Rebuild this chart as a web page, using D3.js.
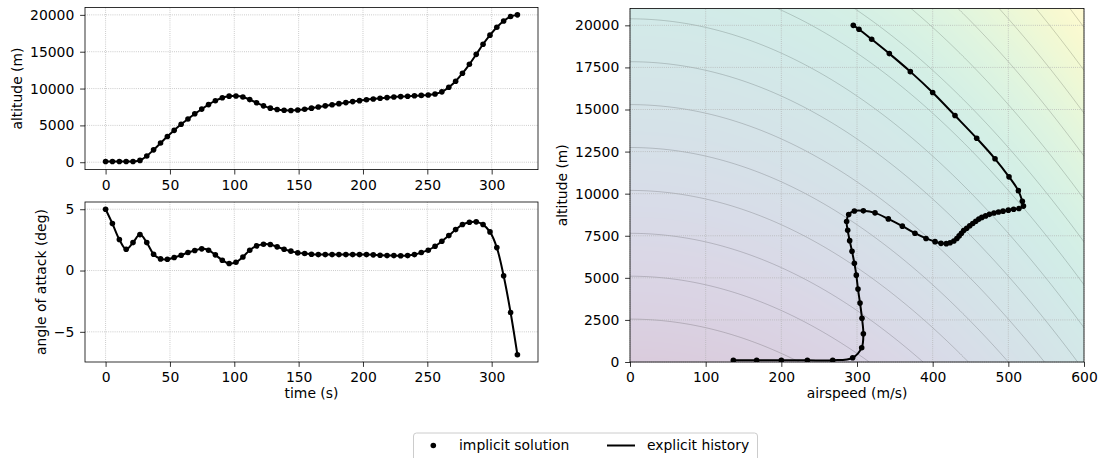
<!DOCTYPE html>
<html>
<head>
<meta charset="utf-8">
<script src="https://cdn.jsdelivr.net/npm/d3@7"></script>
<style>
  body { margin: 0; background: #fff; }
  text { font-family: "DejaVu Sans", sans-serif; }
</style>
</head>
<body>
<script>
// values
const time = [0, 5.3, 10.7, 16, 21.3, 26.7, 32, 37.3, 42.7, 48, 53.3, 58.7, 64, 69.3, 74.7, 80,
  85.3, 90.7, 96, 101.3, 106.7, 112, 117.3, 122.7, 128, 133.3, 138.7, 144, 149.3, 154.7, 160,
  165.3, 170.7, 176, 181.3, 186.7, 192, 197.3, 202.7, 208, 213.3, 218.7, 224, 229.3, 234.7, 240,
  245.3, 250.7, 256, 261.3, 266.7, 272, 277.3, 282.7, 288, 293.3, 298.7, 304, 309.3, 314.7, 320]

const altitude = [100, 100, 100, 100, 100, 250, 850, 1680, 2600, 3500, 4330, 5160, 5870, 6580, 7210,
  7820, 8350, 8760, 8970, 8980, 8860, 8500, 8070, 7650, 7340, 7150, 7050, 7030, 7080, 7190, 7340,
  7490, 7650, 7810, 7950, 8090, 8230, 8360, 8490, 8590, 8680, 8770, 8850, 8910, 8960, 9020, 9070,
  9120, 9260, 9550, 10180, 11000, 12070, 13290, 14640, 16010, 17250, 18320, 19170, 19770, 20000]

const alpha = [5.0, 3.83, 2.53, 1.74, 2.28, 2.93, 2.28, 1.33, 0.95, 0.92, 1.06, 1.25, 1.47, 1.63, 1.77,
  1.66, 1.28, 0.84, 0.57, 0.68, 1.11, 1.66, 2.01, 2.15, 2.12, 1.93, 1.74, 1.58, 1.44, 1.39, 1.33,
  1.30, 1.30, 1.30, 1.30, 1.30, 1.30, 1.30, 1.30, 1.28, 1.25, 1.22, 1.22, 1.20, 1.22, 1.30, 1.47,
  1.66, 1.98, 2.39, 2.85, 3.34, 3.75, 3.94, 3.97, 3.75, 3.15, 1.87, -0.43, -3.42, -6.87]

const airspeed = [136.6, 167.4, 200, 234.4, 267.9, 294.3, 306.2, 308.4, 306.6, 304, 301.3, 299.1,
  296.5, 293.4, 290.3, 287.7, 286.3, 289, 296.5, 308.4, 323.8, 341.4, 359.9, 376.6, 391.2, 403.1,
  411, 418, 423, 428, 432, 435, 438, 441, 445, 449, 453, 457, 461, 465, 470, 475, 481, 487, 493,
  500, 507, 514, 520, 518.5, 513.2, 500.9, 482.4, 458.2, 429.5, 400, 370.5, 342.7, 319.4, 302.6, 295.1]

// specific energy levels g*h + v^2/2 (J/kg)
const energyLevels = [25000, 50000, 75000, 100000, 125000, 150000, 175000, 200000, 225000,
  250000, 275000, 300000, 325000, 350000, 375000]

const timeTicks = [0, 50, 100, 150, 200, 250, 300]
const altTicks = [0, 5000, 10000, 15000, 20000]
const aoaTicks = [-5, 0, 5]
const speedTicks = [0, 100, 200, 300, 400, 500, 600]
const hTicks = [0, 2500, 5000, 7500, 10000, 12500, 15000, 17500, 20000]

const W = 1101, H = 458
const grav = 9.81
const fontSize = 13.9

const svg = d3.select("body").append("svg")
  .attr("width", W)
  .attr("height", H)

const xT = d3.scaleLinear().domain([-16, 336]).range([85, 538])
const yAlt = d3.scaleLinear().domain([-1000, 21000]).range([169.6, 7.5])
const yAoa = d3.scaleLinear().domain([-7.46, 5.59]).range([362, 202])
const xV = d3.scaleLinear().domain([0, 600]).range([630, 1084])
const yH = d3.scaleLinear().domain([0, 21000]).range([362, 8.5])

function clipFor(id, x, y) {
  svg.append("clipPath").attr("id", id)
    .append("rect")
    .attr("x", x.range()[0]).attr("y", y.range()[1])
    .attr("width", x.range()[1] - x.range()[0])
    .attr("height", y.range()[0] - y.range()[1])
}

function grid(g, x, y, xt, yt) {
  g.append("g").selectAll("line").data(xt).join("line")
    .attr("x1", d => x(d)).attr("x2", d => x(d))
    .attr("y1", y.range()[0]).attr("y2", y.range()[1])
  g.append("g").selectAll("line").data(yt).join("line")
    .attr("y1", d => y(d)).attr("y2", d => y(d))
    .attr("x1", x.range()[0]).attr("x2", x.range()[1])
  g.selectAll("line")
    .attr("stroke", "#b0b0b0")
    .attr("stroke-width", 0.8)
    .attr("stroke-dasharray", "0.8,1.32")
}

function axes(x, y, xt, yt) {
  const ax = svg.append("g")
    .attr("transform", `translate(0,${y.range()[0]})`)
    .call(d3.axisBottom(x).tickValues(xt).tickSize(4.9).tickPadding(5.3).tickFormat(d3.format("d")))
  const ay = svg.append("g")
    .attr("transform", `translate(${x.range()[0]},0)`)
    .call(d3.axisLeft(y).tickValues(yt).tickSize(4.9).tickPadding(5.8).tickFormat(d => d < 0 ? "\u2212" + Math.abs(d) : d))
  ;[ax, ay].forEach(a => {
    a.select(".domain").remove()
    a.selectAll("line").attr("stroke", "#000").attr("stroke-width", 0.8)
    a.selectAll("text")
      .attr("font-family", "DejaVu Sans")
      .attr("font-size", fontSize)
      .attr("fill", "#000")
  })
  svg.append("rect")
    .attr("x", x.range()[0]).attr("y", y.range()[1])
    .attr("width", x.range()[1] - x.range()[0])
    .attr("height", y.range()[0] - y.range()[1])
    .attr("fill", "none")
    .attr("stroke", "#000")
    .attr("stroke-width", 0.8)
}

function series(g, xs, ys, x, y) {
  const pts = xs.map((d, i) => [x(d), y(ys[i])])
  g.append("path")
    .attr("d", d3.line().curve(d3.curveCatmullRom.alpha(0.5))(pts))
    .attr("fill", "none")
    .attr("stroke", "#000")
    .attr("stroke-width", 2)
  g.append("g").selectAll("circle").data(pts).join("circle")
    .attr("cx", d => d[0]).attr("cy", d => d[1])
    .attr("r", 2.8)
    .attr("fill", "#000")
}

function label(text, x, y, rotate) {
  svg.append("text")
    .attr("transform", `translate(${x},${y})` + (rotate ? " rotate(-90)" : ""))
    .attr("text-anchor", "middle")
    .attr("dy", "0.35em")
    .attr("font-size", fontSize)
    .attr("fill", "#000")
    .text(text)
}

// altitude vs time
clipFor("c1", xT, yAlt)
grid(svg.append("g"), xT, yAlt, timeTicks, altTicks)
series(svg.append("g").attr("clip-path", "url(#c1)"), time, altitude, xT, yAlt)
axes(xT, yAlt, timeTicks, altTicks)

// angle of attack vs time
clipFor("c2", xT, yAoa)
grid(svg.append("g"), xT, yAoa, timeTicks, aoaTicks)
series(svg.append("g").attr("clip-path", "url(#c2)"), time, alpha, xT, yAoa)
axes(xT, yAoa, timeTicks, aoaTicks)

// altitude vs airspeed with energy background
clipFor("c3", xV, yH)
const x0 = xV.range()[0], y0 = yH.range()[1]
const cw = Math.round(xV.range()[1] - x0), ch = Math.round(yH.range()[0] - y0)
const eMax = grav * yH.domain()[1] + xV.domain()[1] * xV.domain()[1] / 2
const color = d3.scaleSequential(d3.interpolateViridis).domain([0, eMax])
const canvas = document.createElement("canvas")
canvas.width = cw
canvas.height = ch
const ctx = canvas.getContext("2d")
const img = ctx.createImageData(cw, ch)
for (let j = 0; j < ch; j++) {
  const h = yH.invert(y0 + j + 0.5)
  for (let i = 0; i < cw; i++) {
    const v = xV.invert(x0 + i + 0.5)
    const c = d3.rgb(color(grav * h + v * v / 2))
    const k = (j * cw + i) * 4
    img.data[k] = 255 - 0.2 * (255 - c.r)
    img.data[k + 1] = 255 - 0.2 * (255 - c.g)
    img.data[k + 2] = 255 - 0.2 * (255 - c.b)
    img.data[k + 3] = 255
  }
}
ctx.putImageData(img, 0, 0)
svg.append("image")
  .attr("x", x0).attr("y", y0)
  .attr("width", cw).attr("height", ch)
  .attr("preserveAspectRatio", "none")
  .attr("href", canvas.toDataURL())

const contourG = svg.append("g").attr("clip-path", "url(#c3)")
contourG.selectAll("path").data(energyLevels).join("path")
  .attr("d", e => {
    const vEnd = Math.sqrt(2 * e)
    const vs = d3.range(0, Math.min(vEnd, 640), 2).concat(vEnd < 640 ? [vEnd] : [])
    return d3.line()(vs.map(v => [xV(v), yH((e - v * v / 2) / grav)]))
  })
  .attr("fill", "none")
  .attr("stroke", "#000")
  .attr("stroke-opacity", 0.22)
  .attr("stroke-width", 0.8)

grid(svg.append("g"), xV, yH, speedTicks, hTicks)
series(svg.append("g").attr("clip-path", "url(#c3)"), airspeed, altitude, xV, yH)
axes(xV, yH, speedTicks, hTicks)

label("altitude (m)", 17, (yAlt.range()[0] + yAlt.range()[1]) / 2, true)
label("angle of attack (deg)", 41, (yAoa.range()[0] + yAoa.range()[1]) / 2, true)
label("time (s)", (xT.range()[0] + xT.range()[1]) / 2, 393)
label("altitude (m)", 562, (yH.range()[0] + yH.range()[1]) / 2, true)
label("airspeed (m/s)", (xV.range()[0] + xV.range()[1]) / 2, 393)

// legend
const lg = svg.append("g")
lg.append("rect")
  .attr("x", 413.5).attr("y", 433)
  .attr("width", 344).attr("height", 32)
  .attr("rx", 3)
  .attr("fill", "#fff")
  .attr("fill-opacity", 0.8)
  .attr("stroke", "#cccccc")
  .attr("stroke-width", 1)
lg.append("circle").attr("cx", 433.3).attr("cy", 445.5).attr("r", 2.8).attr("fill", "#000")
lg.append("text").attr("x", 459).attr("y", 445.5).attr("dy", "0.35em")
  .attr("font-size", fontSize).text("implicit solution")
lg.append("line").attr("x1", 607).attr("x2", 635).attr("y1", 445.5).attr("y2", 445.5)
  .attr("stroke", "#000").attr("stroke-width", 2)
lg.append("text").attr("x", 647).attr("y", 445.5).attr("dy", "0.35em")
  .attr("font-size", fontSize).text("explicit history")
</script>
</body>
</html>
